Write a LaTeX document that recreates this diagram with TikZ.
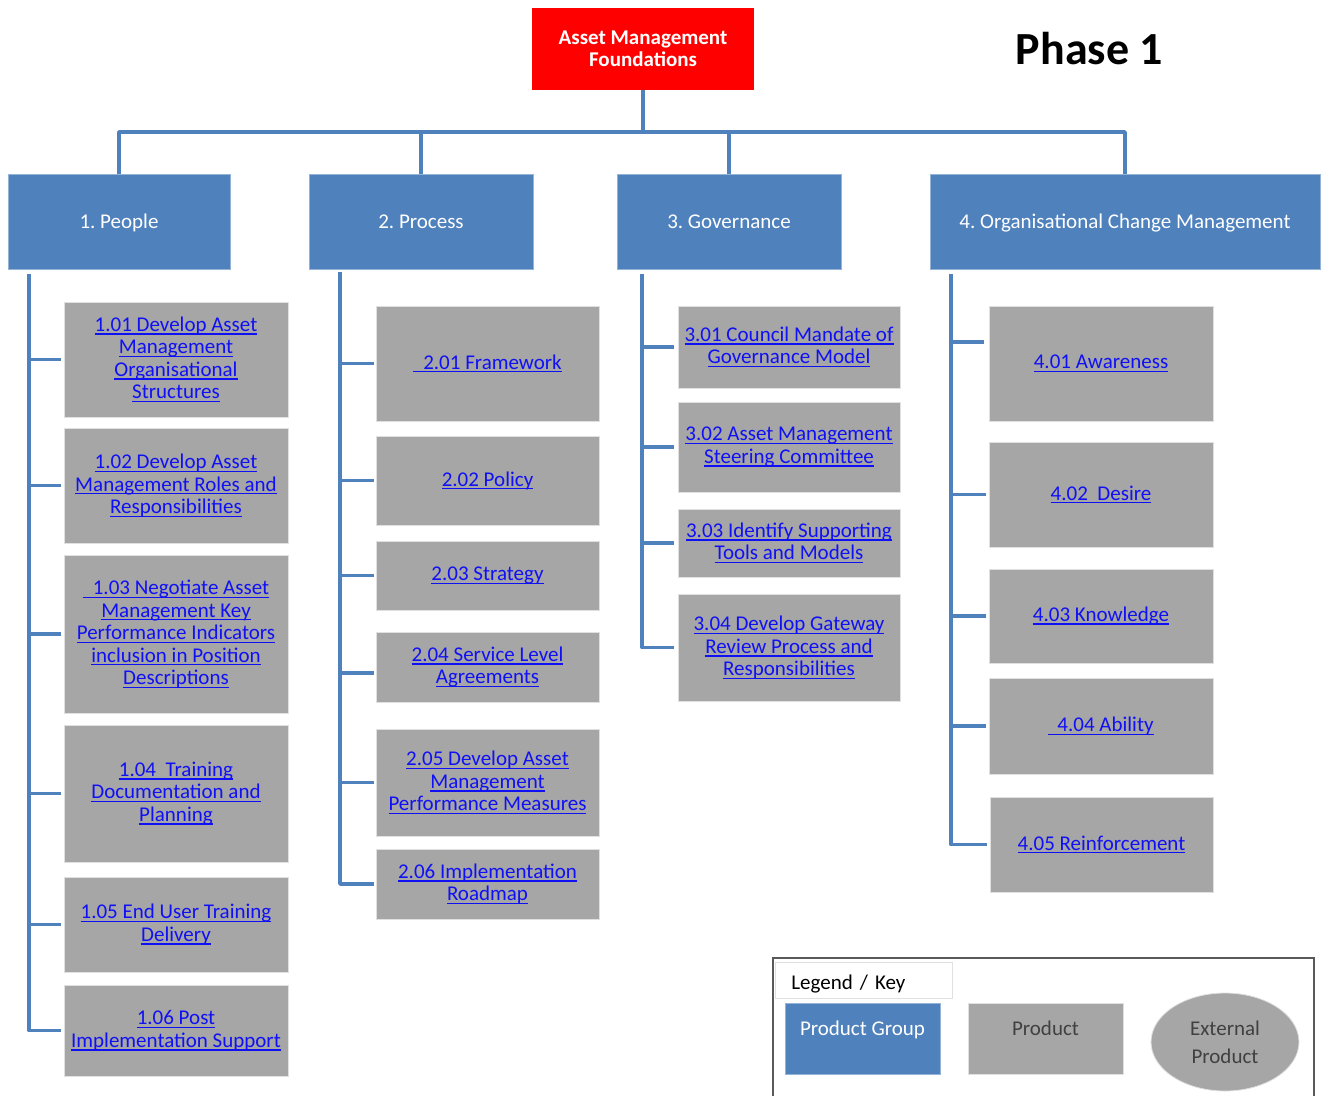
\documentclass[tikz,border=0pt]{standalone}
\usepackage{fontspec}
\setmainfont{Carlito}
\usetikzlibrary{calc,shapes.geometric}
\definecolor{grpblue}{HTML}{4F81BD}
\definecolor{prodgray}{HTML}{A6A6A6}
\definecolor{linkblue}{HTML}{1010F5}
\definecolor{rootred}{HTML}{FF0000}
\newsavebox\ulbox
\newcommand\ulx[1]{\sbox\ulbox{#1}\rlap{\rule[-3.4pt]{\wd\ulbox}{1.4pt}}\usebox\ulbox}
\newcommand\fsz{\fontsize{21}{22.5}\selectfont}
\newcommand\boxat[7]{\node[#2, minimum width=#5pt-#3pt, minimum height=#6pt-#4pt] (#1) at ({(#3+#5)/2},{(#4+#6)/2}) {#7};}
\tikzset{
  grp/.style={fill=grpblue, draw=grpblue!60!white, line width=0.8pt, text=white, font=\fsz, inner sep=0pt, align=center},
  prod/.style={fill=prodgray, draw=black!12, line width=0.8pt, text=linkblue, font=\fsz, inner sep=0pt, align=center},
  rootbox/.style={fill=rootred, draw=none, text=white, font=\fsz\bfseries, inner sep=0pt, align=center},
  conn/.style={draw=grpblue, line width=3.6pt, line join=round},
}
\begin{document}
\frenchspacing
\begin{tikzpicture}[x=1pt,y=-1pt]
\useasboundingbox (0,0) rectangle (1322,1095);

% root and title
\boxat{root}{rootbox}{532}{8}{754}{90}{Asset Management\\Foundations}
\node[font=\bfseries\fontsize{46}{50}\selectfont, anchor=base] (phase) at (1089.5,64) {Phase 1};

% groups
\tikzset{grp/.append style={text height=14.5pt, text depth=0.5pt}}
\boxat{g1}{grp}{8}{174}{230}{269}{1. People}
\boxat{g2}{grp}{309}{174}{533}{269}{2. Process}
\boxat{g3}{grp}{617}{174}{841}{269}{3. Governance}
\boxat{g4}{grp}{930}{174}{1320}{269}{4. Organisational Change Management}

% top connectors
\coordinate (bar) at (642,132);
\draw[conn] (root.south) -- (root.south |- bar);
\draw[conn] (g1.north) |- (g4.north |- bar) -- (g4.north);
\draw[conn] (g2.north) -- (g2.north |- bar);
\draw[conn] (g3.north) -- (g3.north |- bar);

% column 1
\boxat{b101}{prod}{64}{302}{288}{417}{\ulx{1.01 Develop Asset}\\\ulx{Management}\\\ulx{Organisational}\\\ulx{Structures}}
\boxat{b102}{prod}{64}{428}{288}{543}{\ulx{1.02 Develop Asset}\\\ulx{Management Roles and}\\\ulx{Responsibilities}}
\boxat{b103}{prod}{64}{555}{288}{713}{\ulx{\hspace{10pt}1.03 Negotiate Asset}\\\ulx{Management Key}\\\ulx{Performance Indicators}\\\ulx{inclusion in Position}\\\ulx{Descriptions}}
\boxat{b104}{prod}{64}{725}{288}{862}{\ulx{1.04\ \ Training}\\\ulx{Documentation and}\\\ulx{Planning}}
\boxat{b105}{prod}{64}{877}{288}{972}{\ulx{1.05 End User Training}\\\ulx{Delivery}}
\boxat{b106}{prod}{64}{985}{288}{1076}{\ulx{1.06 Post}\\\ulx{Implementation Support}}

% column 2
\boxat{b201}{prod}{376}{306}{599}{421}{\ulx{\hspace{10pt}2.01 Framework}}
\boxat{b202}{prod}{376}{436}{599}{525}{\ulx{2.02 Policy}}
\boxat{b203}{prod}{376}{541}{599}{610}{\ulx{2.03 Strategy}}
\boxat{b204}{prod}{376}{632}{599}{702}{\ulx{2.04 Service Level}\\\ulx{Agreements}}
\boxat{b205}{prod}{376}{729}{599}{836}{\ulx{2.05 Develop Asset}\\\ulx{Management}\\\ulx{Performance Measures}}
\boxat{b206}{prod}{376}{849}{599}{919}{\ulx{2.06 Implementation}\\\ulx{Roadmap}}

% column 3
\boxat{b301}{prod}{678}{306}{900}{388}{\ulx{3.01 Council Mandate of}\\\ulx{Governance Model}}
\boxat{b302}{prod}{678}{402}{900}{492}{\ulx{3.02 Asset Management}\\\ulx{Steering Committee}}
\boxat{b303}{prod}{678}{509}{900}{577}{\ulx{3.03 Identify Supporting}\\\ulx{Tools and Models}}
\boxat{b304}{prod}{678}{594}{900}{701}{\ulx{3.04 Develop Gateway}\\\ulx{Review Process and}\\\ulx{Responsibilities}}

% column 4
\boxat{b401}{prod}{989}{306}{1213}{421}{\ulx{4.01 Awareness}}
\boxat{b402}{prod}{989}{442}{1213}{547}{\ulx{4.02\ \ Desire}}
\boxat{b403}{prod}{989}{569}{1213}{663}{\ulx{4.03 Knowledge}}
\boxat{b404}{prod}{989}{678}{1213}{774}{\ulx{\hspace{9pt}4.04 Ability}}
\boxat{b405}{prod}{990}{797}{1213}{892}{\ulx{4.05 Reinforcement}}

% column connectors
\coordinate (s1) at (29,274);
\coordinate (s2) at (340,272);
\coordinate (s3) at (642,274);
\coordinate (s4) at (951,274);
\coordinate (t204) at ([xshift=-2pt,yshift=-6pt]b204.west);
\coordinate (t401) at ([xshift=-5pt,yshift=21.5pt]b401.west);
\draw[conn] (s1) |- ([xshift=-3pt]b106.west);
\foreach \b in {b101,b102,b103,b104,b105}
  \draw[conn] (s1 |- \b.west) -- ([xshift=-3pt]\b.west);
\draw[conn] (s2) |- ([xshift=-2pt]b206.west);
\foreach \b in {b201,b202,b203,b205}
  \draw[conn] (s2 |- \b.west) -- ([xshift=-2pt]\b.west);
\draw[conn] (s2 |- t204) -- (t204);
\draw[conn] (s3) |- ([xshift=-4pt]b304.west);
\foreach \b in {b301,b302,b303}
  \draw[conn] (s3 |- \b.west) -- ([xshift=-4pt]\b.west);
\draw[conn] (s4) |- ([xshift=-3pt]b405.west);
\foreach \b in {b402,b403,b404}
  \draw[conn] (s4 |- \b.west) -- ([xshift=-3pt]\b.west);
\draw[conn] (s4 |- t401) -- (t401);

% legend
\node[draw=black!65, line width=1.2pt, minimum width=541pt, minimum height=142pt, inner sep=0pt] (legend) at (1043.5,1029) {};
\node[draw=black!12, fill=white, line width=0.8pt, anchor=west, text height=27pt, text depth=9pt, text width=145pt, inner xsep=16pt, inner ysep=0pt, align=left, font=\fsz] (legtitle) at (775,980) {Legend / Key};
\node[grp, anchor=north, minimum width=155pt, text height=32pt, text depth=39pt] (lgrp) at (862.5,1003) {Product Group};
\node[prod, text=black!75, anchor=north, minimum width=155pt, text height=32pt, text depth=39pt] (lprod) at (1045.5,1003) {Product};
\node[ellipse, fill=prodgray, draw=black!12, line width=0.8pt, minimum width=148pt, minimum height=98pt, inner sep=0pt, align=center, text=black!75, font=\fontsize{21}{28}\selectfont] (lext) at (1225,1042) {External\\Product};
\end{tikzpicture}
\end{document}
